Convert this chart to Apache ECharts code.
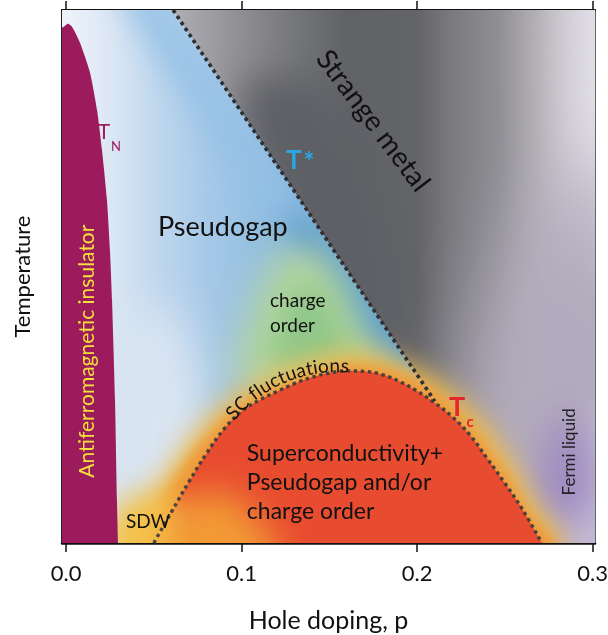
<!DOCTYPE html>
<html><head><meta charset="utf-8">
<script src="https://cdn.jsdelivr.net/npm/echarts@6/dist/echarts.min.js"></script>
<style>html,body{margin:0;padding:0;background:#fff}#c{width:608px;height:635px}</style>
</head><body><div id="c"></div>
<script>
// ---------- data: hole doping p (x) and temperature in relative units (y, 0..1) ----------
const xTicks = [0.0, 0.1, 0.2, 0.3];
const tickLabels = ['0.0', '0.1', '0.2', '0.3'];
const tStarLine = [[0.061, 1.0], [0.21, 0.266]];
const domeP = [0.05,0.06,0.07,0.08,0.09,0.10,0.11,0.12,0.13,0.14,0.15,0.16,0.17,0.18,0.19,0.20,0.21,0.22,0.23,0.24,0.25,0.26,0.271];
const domeT = [0,0.058,0.115,0.168,0.214,0.247,0.268,0.284,0.299,0.311,0.319,0.323,0.322,0.316,0.303,0.285,0.263,0.237,0.203,0.158,0.112,0.063,0];
const afBoundary = [[-0.01,-0.05],[-0.01,0.955],[-0.0015,0.968],[0.001,0.974],[0.0035,0.968],[0.008,0.938],[0.0137,0.882],[0.0177,0.812],[0.0205,0.737],[0.0233,0.644],[0.025,0.55],[0.0262,0.456],[0.0279,0.268],[0.029,0.081],[0.0296,0],[0.0296,-0.05]];
const haloOuter = [[0.038,-0.02],[0.05,0.09],[0.063,0.16],[0.077,0.22],[0.095,0.275],[0.12,0.32],[0.145,0.35],[0.165,0.358],[0.19,0.343],[0.212,0.305],[0.232,0.25],[0.25,0.175],[0.265,0.09],[0.28,-0.02]];
const haloInner = [[0.046,-0.02],[0.054,0.07],[0.066,0.14],[0.08,0.2],[0.1,0.26],[0.125,0.3],[0.15,0.327],[0.165,0.335],[0.19,0.318],[0.21,0.283],[0.228,0.228],[0.245,0.16],[0.26,0.08],[0.275,-0.02]];
const chargeOrderOuter = [[0.1,0.3],[0.106,0.42],[0.116,0.51],[0.131,0.555],[0.147,0.535],[0.163,0.44],[0.178,0.3]];
const chargeOrderInner = [[0.117,0.33],[0.122,0.43],[0.133,0.49],[0.147,0.475],[0.157,0.41],[0.166,0.33]];
const sdwYellow = [[0.028,-0.05],[0.028,0.06],[0.045,0.09],[0.065,0.07],[0.075,-0.05]];
const sdwOrange = [[0.058,-0.05],[0.062,0.05],[0.08,0.095],[0.105,0.06],[0.12,-0.05]];
const lowLeftLight = [[0.03,0.08],[0.03,0.42],[0.055,0.44],[0.075,0.32],[0.075,0.08]];
const blueTop = [[0.025,1.05],[0.051,1.05],[0.132,0.65],[0.106,0.65]];
const blueDeep = [[0.122,0.6],[0.142,0.6],[0.193,0.35],[0.173,0.35]];
const darkGray = [[0.1,0.85],[0.15,0.85],[0.19,0.5],[0.185,0.38],[0.14,0.48]];
const lavenderMid = [[0.225,-0.05],[0.225,0.2],[0.235,0.38],[0.255,0.55],[0.28,0.68],[0.33,0.7],[0.33,-0.05]];
const fermiPurple = [[0.272,0.06],[0.274,0.18],[0.285,0.24],[0.297,0.18],[0.297,0.06]];
const topRightLight = [[0.29,1.1],[0.34,1.1],[0.34,0.5],[0.302,0.55]];
const cornerLavender = [[0.288,-0.05],[0.33,-0.05],[0.33,0.25],[0.302,0.25]];
const scArcCenter = [0.1543, 0.0732];

// ---------- helpers ----------
const X_MIN = -0.0023, X_MAX = 0.3013;
const domeData = domeP.map((p, i) => [p, domeT[i]]);
function lineP(T) { const [a, b] = tStarLine; return a[0] + (b[0] - a[0]) * (T - a[1]) / (b[1] - a[1]); }
const blueSide = [[-0.01,-0.05],[-0.01,1.05],[lineP(1.05),1.05],tStarLine[1],[0.24,-0.05]];
const graySide = [[lineP(1.05),1.05],[0.34,1.05],[0.34,-0.05],[0.24,-0.05],tStarLine[1]];
const OFF = 3000;
const px = (api, pts) => pts.map(p => api.coord(p));
function blob(api, pts, color, blur, opacity, smooth) {
  return { type: 'polygon', silent: true,
    shape: { points: px(api, pts).map(([x, y]) => [x - OFF, y]), smooth: smooth == null ? 0.5 : smooth },
    style: { fill: color, shadowBlur: blur, shadowColor: color, shadowOffsetX: OFF, opacity: opacity == null ? 1 : opacity } };
}
function hGrad(api, p0, p1, stops) {
  const x0 = api.coord([p0, 0])[0], x1 = api.coord([p1, 0])[0];
  return { type: 'linear', x: x0, y: 0, x2: x1, y2: 0, global: true,
    colorStops: stops.map(([p, c]) => ({ offset: (p - p0) / (p1 - p0), color: c })) };
}
const layers = [
  api => ({ type: 'polygon', shape: { points: px(api, [[-0.01,-0.05],[0.34,-0.05],[0.34,1.05],[-0.01,1.05]]) }, style: { fill: '#8ea4bc' } }),
  api => ({ type: 'group', clipPath: { type: 'polygon', shape: { points: px(api, blueSide) } }, children: [
    { type: 'polygon', shape: { points: px(api, blueSide) },
      style: { fill: hGrad(api, 0, 0.19, [[0,'#edf2fa'],[0.025,'#dce7f4'],[0.05,'#c1d8ee'],[0.08,'#a7c9e8'],[0.12,'#8bbae1'],[0.16,'#6da7d7'],[0.19,'#5a9bcf']]) } },
    blob(api, lowLeftLight, '#dae5f2', 45),
    blob(api, blueTop, '#95c1e6', 30, 0.9, 0),
    blob(api, blueDeep, '#5597cc', 25, 0.85, 0),
    blob(api, chargeOrderOuter, '#bedb9c', 40),
    blob(api, chargeOrderInner, '#8fc78b', 32)
  ] }),
  api => ({ type: 'group', clipPath: { type: 'polygon', shape: { points: px(api, graySide) } }, children: [
    { type: 'polygon', shape: { points: px(api, graySide) },
      style: { fill: hGrad(api, 0.059, 0.301, [[0.059,'#b0b0b6'],[0.1,'#8e8e93'],[0.133,'#737478'],[0.16,'#616266'],[0.2,'#636468'],[0.219,'#7a797e'],[0.247,'#908f94'],[0.27,'#b3b0b5'],[0.287,'#d0ccd3'],[0.301,'#e4e2ea']]) } },
    blob(api, darkGray, '#5f6065', 36, 1, 0.3),
    blob(api, lavenderMid, '#b2abbd', 70),
    blob(api, topRightLight, '#dcd8e2', 60, 0.5),
    blob(api, cornerLavender, '#c4bad7', 30),
    blob(api, fermiPurple, '#9e8ac1', 36)
  ] }),
  api => blob(api, haloOuter, '#ecbd55', 26),
  api => blob(api, haloInner, '#ee9b3c', 12)
];
const fgLayers = [
  api => blob(api, sdwYellow, '#f5c44d', 30),
  api => blob(api, sdwOrange, '#f29a36', 35),
  api => ({ type: 'polygon', shape: { points: px(api, afBoundary), smooth: 0.2 }, style: { fill: '#9c1b5d' } })
];

const FONT = 'Lato';
function txt(api, t, at, size, color, opt) {
  opt = opt || {};
  const [x, y] = api.coord(at);
  return { type: 'text', x, y, rotation: opt.rot || 0, silent: true,
    style: { text: t, fontSize: size, fontFamily: FONT, fontWeight: opt.bold ? 'bold' : 'normal', fill: color,
      align: opt.align || 'center', verticalAlign: 'middle' } };
}
function arcText(api) {
  const c = api.coord(scArcCenter);
  const R = 138, a0 = -138.8 * Math.PI / 180, a1 = -86.7 * Math.PI / 180;
  const str = 'SC fluctuations';
  const ctx = document.createElement('canvas').getContext('2d');
  ctx.font = '100px ' + FONT;
  const chars = [...str];
  const w = chars.map(ch => ctx.measureText(ch).width);
  let acc = 0; const cen = w.map(wi => { const m = acc + wi / 2; acc += wi; return m; });
  const span = cen[cen.length - 1] - cen[0];
  const arcLen = R * (a1 - a0);
  const fs = Math.max(15, Math.min(19, 100 * arcLen / span));
  return { type: 'group', children: chars.map((ch, i) => {
    const phi = a0 + (cen[i] - cen[0]) / span * arcLen / R;
    return { type: 'text', x: c[0] + R * Math.cos(phi), y: c[1] + R * Math.sin(phi), rotation: -(phi + Math.PI / 2), silent: true,
      style: { text: ch, fontSize: fs, fontFamily: FONT, fill: '#111', align: 'center', verticalAlign: 'middle' } };
  }) };
}
const textLayers = [
  api => txt(api, 'Pseudogap', [0.0893, 0.592], 27, '#111'),
  api => txt(api, 'Strange metal', [0.1748, 0.792], 28, '#111', { rot: -53 * Math.PI / 180 }),
  api => txt(api, 'T', [0.0216, 0.771], 21, '#9e1b5e'),
  api => txt(api, 'N', [0.0285, 0.744], 13, '#9e1b5e'),
  api => txt(api, 'T', [0.1298, 0.717], 26, '#2ba6de', { bold: true }),
  api => txt(api, '*', [0.1384, 0.713], 26, '#2ba6de', { bold: true }),
  api => txt(api, 'T', [0.2227, 0.255], 27, '#e5262b', { bold: true }),
  api => txt(api, 'c', [0.2301, 0.227], 15, '#e5262b', { bold: true }),
  api => txt(api, 'charge', [0.1162, 0.454], 19, '#111', { align: 'left' }),
  api => txt(api, 'order', [0.1162, 0.407], 19, '#111', { align: 'left' }),
  api => txt(api, 'Superconductivity+', [0.103, 0.167], 23, '#111', { align: 'left' }),
  api => txt(api, 'Pseudogap and/or', [0.103, 0.113], 23, '#111', { align: 'left' }),
  api => txt(api, 'charge order', [0.103, 0.059], 23, '#111', { align: 'left' }),
  api => txt(api, 'SDW', [0.0467, 0.0394], 19, '#111'),
  api => txt(api, 'Fermi liquid', [0.287, 0.171], 17, '#222', { rot: Math.PI / 2 }),
  api => txt(api, 'Antiferromagnetic insulator', [0.012, 0.36], 21, '#f3e03c', { rot: Math.PI / 2 }),
  arcText
];

const fmt = v => { const i = xTicks.findIndex(t => Math.abs(t - v) < 1e-6); return i >= 0 ? tickLabels[i] : ''; };
const baseX = { type: 'value', min: X_MIN, max: X_MAX, splitLine: { show: false } };
const chart = echarts.init(document.getElementById('c'), null, { renderer: 'canvas', width: 608, height: 635 });
chart.setOption({
  animation: false,
  backgroundColor: '#ffffff',
  grid: { left: 62, right: 13, top: 10, bottom: 92, containLabel: false, outerBoundsMode: 'none' },
  xAxis: [
    Object.assign({}, baseX, { position: 'bottom',
      axisLine: { show: true, onZero: false, lineStyle: { color: '#111', width: 2.5 } },
      axisTick: { show: true, inside: false, length: 9, customValues: xTicks, lineStyle: { color: '#111', width: 1.5 } },
      axisLabel: { show: true, customValues: xTicks, formatter: fmt, margin: 20, fontSize: 22, fontFamily: FONT, color: '#111' },
      name: 'Hole doping, p', nameLocation: 'middle', nameGap: 65, nameTextStyle: { fontSize: 25, fontFamily: FONT, color: '#111' } }),
    Object.assign({}, baseX, { position: 'top',
      axisLine: { show: true, onZero: false, lineStyle: { color: '#111', width: 2 } },
      axisTick: { show: true, inside: false, length: 9, customValues: xTicks, lineStyle: { color: '#111', width: 1.5 } },
      axisLabel: { show: false } })
  ],
  yAxis: [
    { type: 'value', min: 0, max: 1, position: 'left', splitLine: { show: false },
      axisLine: { show: true, onZero: false, lineStyle: { color: '#222', width: 2 } },
      axisTick: { show: false }, axisLabel: { show: false },
      name: 'Temperature', nameLocation: 'middle', nameGap: 28, nameRotate: 90,
      nameTextStyle: { fontSize: 22, fontFamily: FONT, color: '#111' } },
    { type: 'value', min: 0, max: 1, position: 'right', splitLine: { show: false },
      axisLine: { show: true, onZero: false, lineStyle: { color: '#333', width: 1.5 } },
      axisTick: { show: false }, axisLabel: { show: false } }
  ],
  series: [
    { type: 'custom', name: 'background', z: 1, clip: true, silent: true,
      data: layers.map(() => [0, 0]), renderItem: (params, api) => layers[params.dataIndex](api) },
    { type: 'line', name: 'superconducting dome', z: 2, data: domeData, smooth: 0.4, showSymbol: false, silent: true,
      lineStyle: { width: 0 }, areaStyle: { color: '#e84c30', opacity: 1 } },
    { type: 'custom', name: 'foreground', z: 3, clip: true, silent: true,
      data: fgLayers.map(() => [0, 0]), renderItem: (params, api) => fgLayers[params.dataIndex](api) },
    { type: 'line', name: 'T*', z: 4, data: tStarLine, showSymbol: false, silent: true,
      lineStyle: { type: [3.6, 3.6], width: 3.6, color: '#2e2e30', cap: 'butt' } },
    { type: 'line', name: 'Tc', z: 4, data: domeData, smooth: 0.4, showSymbol: false, silent: true,
      lineStyle: { type: [3.4, 3.6], width: 3.4, color: '#3a3a3c', opacity: 0.9, cap: 'butt' } },
    { type: 'custom', name: 'labels', z: 5, clip: false, silent: true,
      data: textLayers.map(() => [0, 0]), renderItem: (params, api) => textLayers[params.dataIndex](api) }
  ]
});
</script></body></html>
